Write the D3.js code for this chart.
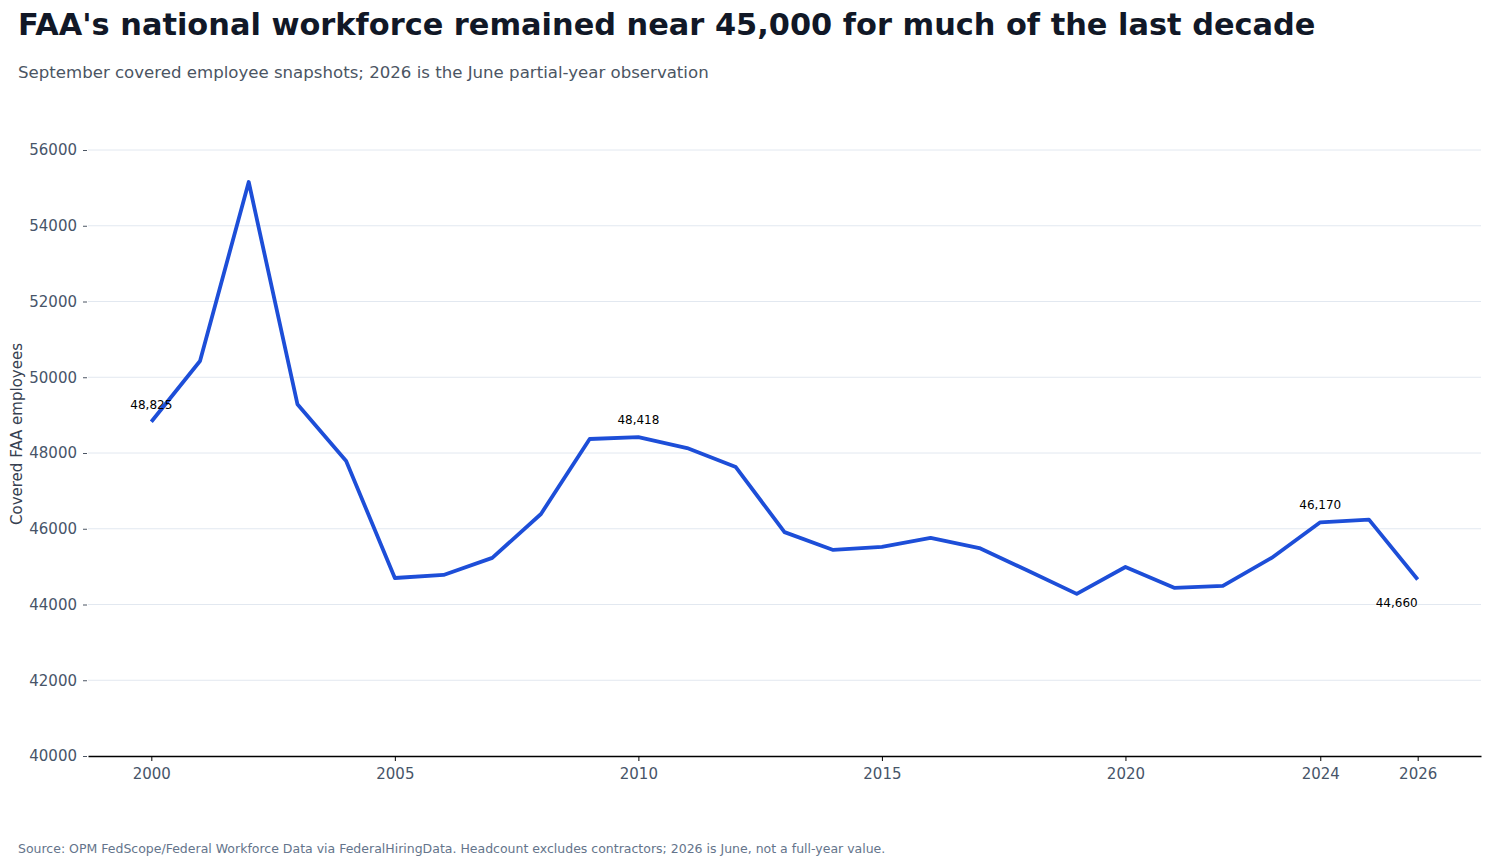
<!DOCTYPE html>
<html>
<head>
<meta charset="utf-8">
<script src="https://cdn.jsdelivr.net/npm/d3@7"></script>
<style>
  body { margin: 0; background: #fff; font-family: 'DejaVu Sans', sans-serif; }
  svg text { font-family: 'DejaVu Sans', sans-serif; }
</style>
</head>
<body>
<div id="chart"></div>
<script>
// Covered FAA employees, September snapshots (2026 = June)
const years = [2000, 2001, 2002, 2003, 2004, 2005, 2006, 2007, 2008, 2009, 2010, 2011, 2012,
  2013, 2014, 2015, 2016, 2017, 2018, 2019, 2020, 2021, 2022, 2023, 2024, 2025, 2026]
const employees = [48825, 50430, 55155, 49290, 47790, 44700, 44780, 45230, 46390, 48370, 48418, 48130, 47630,
  45910, 45440, 45520, 45760, 45490, 44890, 44280, 44990, 44440, 44490, 45230, 46170, 46240, 44660]
const xTicks = [2000, 2005, 2010, 2015, 2020, 2024, 2026]
const yTicks = [40000, 42000, 44000, 46000, 48000, 50000, 52000, 54000, 56000]
// labelled points: year, text position
const labelled = [
  { year: 2000, pos: 'above' },
  { year: 2010, pos: 'above' },
  { year: 2024, pos: 'above' },
  { year: 2026, pos: 'below' }
]

const width = 1491
const height = 866
const margin = { left: 88, right: 10, top: 113, bottom: 110 }

const data = years.map((y, i) => ({ year: y, value: employees[i] }))

const svg = d3.select('#chart')
  .append('svg')
  .attr('width', width)
  .attr('height', height)

const x = d3.scaleLinear()
  .domain([1998.7, 2027.3])
  .range([margin.left, width - margin.right])

const y = d3.scaleLinear()
  .domain([40000, 56000])
  .range([756, 150])

// title + subtitle
svg.append('text')
  .attr('x', 18).attr('y', 35)
  .attr('font-size', 30.4).attr('font-weight', 'bold')
  .attr('fill', '#111827')
  .text("FAA's national workforce remained near 45,000 for much of the last decade")

svg.append('text')
  .attr('x', 18).attr('y', 78)
  .attr('font-size', 16.6)
  .attr('fill', '#4b5563')
  .text('September covered employee snapshots; 2026 is the June partial-year observation')

// gridlines
svg.append('g')
  .selectAll('line')
  .data(yTicks.filter(d => d !== 40000))
  .join('line')
  .attr('x1', margin.left)
  .attr('x2', width - margin.right)
  .attr('y1', d => y(d))
  .attr('y2', d => y(d))
  .attr('stroke', '#e2e8f0')
  .attr('stroke-width', 1)

// y axis
const yAxisG = svg.append('g')
  .attr('transform', `translate(${margin.left - 1},0)`)
  .call(d3.axisLeft(y).tickValues(yTicks).tickFormat(d3.format('d')).tickSize(4).tickPadding(6))
yAxisG.select('.domain').remove()
yAxisG.selectAll('.tick line').attr('stroke', '#4b5563')
yAxisG.selectAll('.tick text')
  .attr('font-size', 15)
  .attr('fill', '#475569')

// x axis
const xAxisG = svg.append('g')
  .attr('transform', 'translate(0,756)')
  .call(d3.axisBottom(x).tickValues(xTicks).tickFormat(d3.format('d')).tickSizeInner(5).tickSizeOuter(0).tickPadding(7))
xAxisG.select('.domain').attr('stroke', '#000').attr('stroke-width', 1.3)
xAxisG.selectAll('.tick line').attr('stroke', '#000')
xAxisG.selectAll('.tick text')
  .attr('font-size', 15)
  .attr('fill', '#475569')

// y label
svg.append('text')
  .attr('transform', 'translate(22,434) rotate(-90)')
  .attr('text-anchor', 'middle')
  .attr('font-size', 15)
  .attr('fill', '#374151')
  .text('Covered FAA employees')

// line
const line = d3.line()
  .x(d => x(d.year))
  .y(d => y(d.value))

svg.append('path')
  .datum(data)
  .attr('d', line)
  .attr('fill', 'none')
  .attr('stroke', '#1d4ed8')
  .attr('stroke-width', 3.8)
  .attr('stroke-linejoin', 'round')

// value labels
const fmt = d3.format(',')
labelled.forEach(l => {
  const d = data.find(e => e.year === l.year)
  svg.append('text')
    .attr('x', x(d.year))
    .attr('y', l.pos === 'below' ? y(d.value) + 27 : y(d.value) - 13)
    .attr('text-anchor', l.pos === 'below' ? 'end' : 'middle')
    .attr('font-size', 12)
    .attr('fill', '#000')
    .text(fmt(d.value))
})

// source
svg.append('text')
  .attr('x', 18).attr('y', 853)
  .attr('font-size', 12.5)
  .attr('fill', '#64748b')
  .text('Source: OPM FedScope/Federal Workforce Data via FederalHiringData. Headcount excludes contractors; 2026 is June, not a full-year value.')
</script>
</body>
</html>
